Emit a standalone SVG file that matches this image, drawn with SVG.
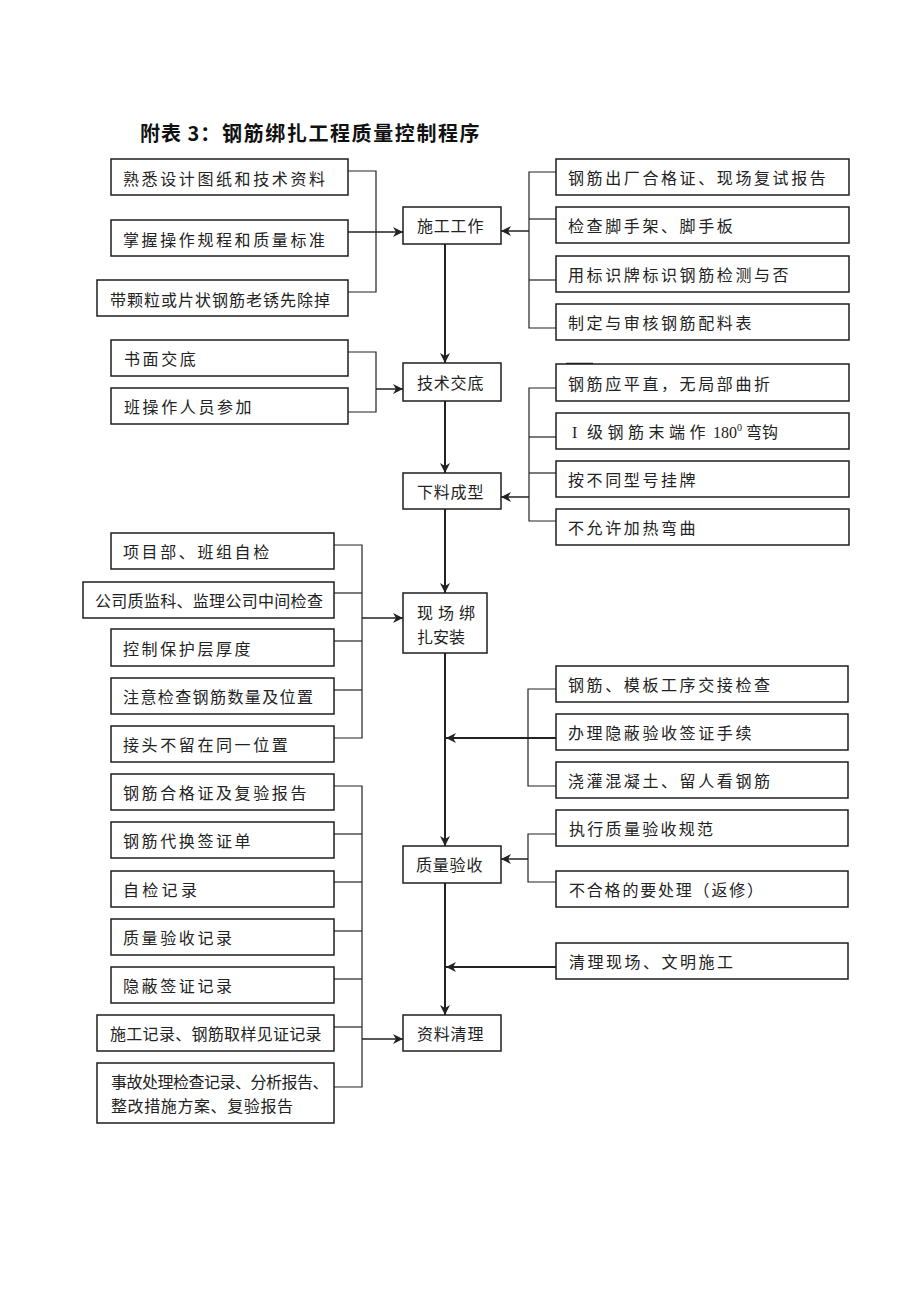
<svg xmlns="http://www.w3.org/2000/svg" width="920" height="1302" viewBox="0 0 920 1302">
<style>
.bg{fill:#fff}
.box{fill:#fff;stroke:#1e1e1e;stroke-width:1.5}
.t{font-family:"Noto Sans CJK SC","Noto Sans CJK TC",sans-serif;font-size:16px;fill:#222;letter-spacing:2.6px}
.tc{font-family:"Noto Sans CJK SC","Noto Sans CJK TC",sans-serif;font-size:16px;fill:#222;letter-spacing:0.8px}
.title{font-family:"Noto Sans CJK SC","Noto Sans CJK TC",sans-serif;font-size:20px;font-weight:bold;fill:#111}
.c{fill:none;stroke:#222;stroke-width:1.2}
.a{fill:none;stroke:#222;stroke-width:1.5;marker-end:url(#arr)}
.m{fill:none;stroke:#222;stroke-width:2;marker-end:url(#arr)}
</style>
<defs>
<marker id="arr" markerUnits="userSpaceOnUse" markerWidth="12" markerHeight="12" refX="10" refY="5" orient="auto">
<path d="M0,0 L10,5 L0,10 L3,5 Z" fill="#222"/>
</marker>
</defs>
<rect class="bg" x="0" y="0" width="920" height="1302"/>

<text class="title" x="140" y="141"><tspan style="letter-spacing:1px">附表 3：</tspan><tspan x="222" style="letter-spacing:1.6px">钢筋绑扎工程质量控制程序</tspan></text>

<g id="connectors">
  <polyline class="c" points="348,171 376,171 376,292 348,292"/>
  <line class="a" x1="348" y1="232" x2="403" y2="232"/>
  <polyline class="c" points="556,172 529,172 529,328 556,328"/>
  <line class="c" x1="529" y1="219" x2="556" y2="219"/>
  <line class="c" x1="529" y1="280" x2="556" y2="280"/>
  <line class="a" x1="529" y1="231" x2="501" y2="231"/>
  <polyline class="c" points="348,352 376,352 376,412 348,412"/>
  <line class="a" x1="376" y1="389" x2="403" y2="389"/>
  <polyline class="c" points="556,388 529,388 529,521 556,521"/>
  <line class="c" x1="529" y1="437" x2="556" y2="437"/>
  <line class="c" x1="529" y1="473" x2="556" y2="473"/>
  <line class="a" x1="529" y1="497" x2="501" y2="497"/>
  <line x1="566" y1="364" x2="593" y2="364" stroke="#222" stroke-width="2.5"/>
  <polyline class="c" points="334,545 362,545 362,738 334,738"/>
  <line class="c" x1="334" y1="593" x2="362" y2="593"/>
  <line class="c" x1="334" y1="641" x2="362" y2="641"/>
  <line class="c" x1="334" y1="690" x2="362" y2="690"/>
  <line class="a" x1="362" y1="618" x2="403" y2="618"/>
  <polyline class="c" points="556,689 528,689 528,786 556,786"/>
  <line class="m" x1="556" y1="738" x2="446" y2="738"/>
  <polyline class="c" points="556,834 528,834 528,882 556,882"/>
  <line class="a" x1="528" y1="859" x2="501" y2="859"/>
  <line class="m" x1="556" y1="967" x2="446" y2="967"/>
  <polyline class="c" points="334,786 362,786 362,1087 334,1087"/>
  <line class="c" x1="334" y1="834" x2="362" y2="834"/>
  <line class="c" x1="334" y1="882" x2="362" y2="882"/>
  <line class="c" x1="334" y1="931" x2="362" y2="931"/>
  <line class="c" x1="334" y1="979" x2="362" y2="979"/>
  <line class="c" x1="334" y1="1027" x2="362" y2="1027"/>
  <line class="a" x1="362" y1="1039" x2="403" y2="1039"/>
  <line class="m" x1="445" y1="244" x2="445" y2="363"/>
  <line class="m" x1="445" y1="401" x2="445" y2="473"/>
  <line class="m" x1="445" y1="509" x2="445" y2="593"/>
  <line class="m" x1="445" y1="653" x2="445" y2="846"/>
  <line class="m" x1="445" y1="883" x2="445" y2="1015"/>
</g>

<g id="n1"><rect class="box" x="111" y="159" width="237" height="36"/><text class="t" x="123" y="185">熟悉设计图纸和技术资料</text></g>
<g id="n2"><rect class="box" x="111" y="220" width="237" height="36"/><text class="t" x="123" y="246">掌握操作规程和质量标准</text></g>
<g id="n3"><rect class="box" x="97" y="280" width="251" height="36"/><text class="t" x="110" y="306" style="letter-spacing:1px">带颗粒或片状钢筋老锈先除掉</text></g>
<g id="c1"><rect class="box" x="403" y="207" width="98" height="37"/><text class="tc" x="417" y="232">施工工作</text></g>

<g id="r1"><rect class="box" x="556" y="159" width="293" height="36"/><text class="t" x="568" y="184">钢筋出厂合格证、现场复试报告</text></g>
<g id="r2"><rect class="box" x="556" y="207" width="293" height="36"/><text class="t" x="568" y="232">检查脚手架、脚手板</text></g>
<g id="r3"><rect class="box" x="556" y="256" width="293" height="36"/><text class="t" x="568" y="281">用标识牌标识钢筋检测与否</text></g>
<g id="r4"><rect class="box" x="556" y="304" width="293" height="36"/><text class="t" x="568" y="329">制定与审核钢筋配料表</text></g>

<g id="n4"><rect class="box" x="111" y="340" width="237" height="36"/><text class="t" x="124" y="365">书面交底</text></g>
<g id="n5"><rect class="box" x="111" y="388" width="237" height="36"/><text class="t" x="124" y="413">班操作人员参加</text></g>
<g id="c2"><rect class="box" x="403" y="363" width="98" height="38"/><text class="tc" x="417" y="389">技术交底</text></g>
<g id="c3"><rect class="box" x="403" y="473" width="98" height="36"/><text class="tc" x="417" y="498">下料成型</text></g>

<g id="r5"><rect class="box" x="556" y="364" width="293" height="37"/><text class="t" x="568" y="390">钢筋应平直，无局部曲折</text></g>
<g id="r6"><rect class="box" x="556" y="413" width="293" height="36"/><text class="t" x="572" y="438"><tspan font-family="Liberation Serif">I</tspan><tspan x="587" style="letter-spacing:4.5px">级钢筋末端作</tspan><tspan x="713" font-family="Liberation Serif" style="letter-spacing:0">180</tspan><tspan font-family="Liberation Serif" font-size="10" dy="-7" style="letter-spacing:0">0</tspan><tspan x="746" dy="7" style="letter-spacing:0">弯钩</tspan></text></g>
<g id="r7"><rect class="box" x="556" y="461" width="293" height="36"/><text class="t" x="568" y="486">按不同型号挂牌</text></g>
<g id="r8"><rect class="box" x="556" y="509" width="293" height="36"/><text class="t" x="568" y="534">不允许加热弯曲</text></g>

<g id="n6"><rect class="box" x="111" y="533" width="223" height="36"/><text class="t" x="123" y="558">项目部、班组自检</text></g>
<g id="n7"><rect class="box" x="83" y="582" width="251" height="36"/><text class="t" x="95" y="607" style="letter-spacing:0.3px">公司质监科、监理公司中间检查</text></g>
<g id="n8"><rect class="box" x="111" y="629" width="223" height="37"/><text class="t" x="123" y="655">控制保护层厚度</text></g>
<g id="n9"><rect class="box" x="111" y="678" width="223" height="36"/><text class="t" x="123" y="703" style="letter-spacing:1.4px">注意检查钢筋数量及位置</text></g>
<g id="n10"><rect class="box" x="111" y="726" width="223" height="36"/><text class="t" x="123" y="751">接头不留在同一位置</text></g>
<g id="c4"><rect class="box" x="403" y="593" width="84" height="60"/><text class="tc" x="417" y="619" style="letter-spacing:0.7px">现 场 绑</text><text class="tc" x="417" y="643" style="letter-spacing:0">扎安装</text></g>

<g id="r9"><rect class="box" x="556" y="666" width="292" height="36"/><text class="t" x="568" y="691">钢筋、模板工序交接检查</text></g>
<g id="r10"><rect class="box" x="556" y="714" width="292" height="36"/><text class="t" x="568" y="739">办理隐蔽验收签证手续</text></g>
<g id="r11"><rect class="box" x="556" y="762" width="292" height="36"/><text class="t" x="568" y="787">浇灌混凝土、留人看钢筋</text></g>

<g id="n11"><rect class="box" x="111" y="774" width="223" height="36"/><text class="t" x="123" y="799">钢筋合格证及复验报告</text></g>
<g id="n12"><rect class="box" x="111" y="822" width="223" height="36"/><text class="t" x="123" y="847">钢筋代换签证单</text></g>
<g id="n13"><rect class="box" x="111" y="871" width="223" height="36"/><text class="t" x="123" y="896" style="letter-spacing:3.3px">自检记录</text></g>
<g id="n14"><rect class="box" x="111" y="919" width="223" height="36"/><text class="t" x="123" y="944">质量验收记录</text></g>
<g id="n15"><rect class="box" x="111" y="967" width="223" height="36"/><text class="t" x="123" y="992">隐蔽签证记录</text></g>
<g id="n16"><rect class="box" x="97" y="1015" width="237" height="36"/><text class="t" x="110" y="1040" style="letter-spacing:0.3px">施工记录、钢筋取样见证记录</text></g>
<g id="n17"><rect class="box" x="97" y="1063" width="237" height="60"/><text class="t" x="111" y="1088" style="letter-spacing:-0.5px">事故处理检查记录、分析报告、</text><text class="t" x="111" y="1112" style="letter-spacing:0.6px">整改措施方案、复验报告</text></g>

<g id="c5"><rect class="box" x="403" y="846" width="98" height="37"/><text class="tc" x="416" y="871">质量验收</text></g>
<g id="r12"><rect class="box" x="556" y="810" width="292" height="36"/><text class="t" x="569" y="835" style="letter-spacing:2.3px">执行质量验收规范</text></g>
<g id="r13"><rect class="box" x="556" y="871" width="292" height="36"/><text class="t" x="569" y="896" style="letter-spacing:1.8px">不合格的要处理（返修）</text></g>
<g id="r14"><rect class="box" x="556" y="943" width="292" height="36"/><text class="t" x="569" y="968" style="letter-spacing:2.5px">清理现场、文明施工</text></g>
<g id="c6"><rect class="box" x="403" y="1015" width="98" height="36"/><text class="tc" x="417" y="1040">资料清理</text></g>
</svg>
